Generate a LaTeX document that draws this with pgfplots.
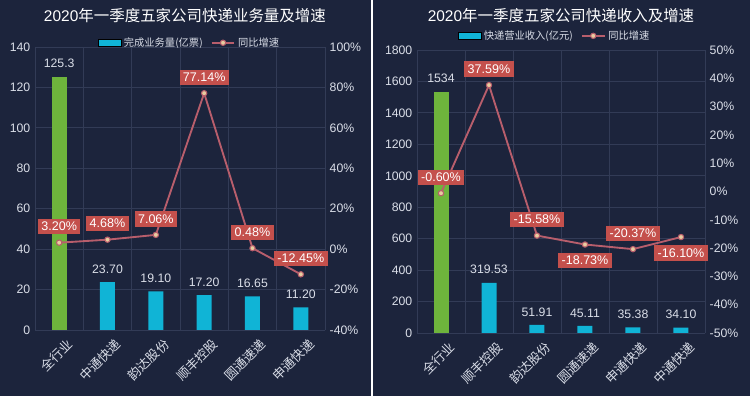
\documentclass[border=0pt]{standalone}
\usepackage{pgfplots}
\pgfplotsset{compat=1.18}
\usepackage{fontspec}
\setmainfont{Liberation Sans}
\newfontfamily\cjk{Noto Sans CJK SC}
\definecolor{bg}{RGB}{28,36,60}
\definecolor{gridc}{RGB}{50,59,86}
\definecolor{barc}{RGB}{16,180,214}
\definecolor{greenc}{RGB}{110,180,60}
\definecolor{linec}{RGB}{184,94,108}
\definecolor{boxc}{RGB}{196,80,76}
\definecolor{mkfill}{RGB}{232,205,160}
\definecolor{tickc}{RGB}{218,222,232}
\pgfplotsset{
  base/.style={scale only axis, anchor=south west, height=212.25pt,
    xmin=-0.5, xmax=5.5, clip=false,
    axis line style={draw=none}, tick style={draw=none},
    major tick length=0pt, minor tick length=0pt,
    /pgf/number format/assume math mode=true,
    /pgf/number format/1000 sep={},
    tick label style={font=\fontsize{9.2}{10}\selectfont, text=tickc},
    grid style={gridc, line width=0.6pt},
    minor grid style={gridc, line width=0.6pt}},
  prim/.style={base, xtick={0,...,5}, minor xtick={-0.5,0.5,...,5.5},
    xminorgrids, ymajorgrids,
    xticklabel style={rotate=45, anchor=north east, xshift=3pt, yshift=-4pt,
      font=\cjk\fontsize{9.6}{11}\selectfont, text=tickc},
    title style={anchor=center, font=\fontsize{11.6}{13}\selectfont, text=white}},
  sec/.style={base, axis y line*=right, axis x line=none, xtick=\empty,
    yticklabel={\pgfmathprintnumber{\tick}\%},
    legend columns=-1,
    legend style={anchor=center, draw=none, fill=none, text=tickc,
      font=\cjk\fontsize{7.7}{9}\selectfont, inner sep=0pt,
      /tikz/every even column/.append style={column sep=4pt}}},
  barval/.style={ybar, bar width=11.25pt, bar shift=0pt, draw=none,
    nodes near coords={\pgfplotspointmeta}, point meta=explicit symbolic,
    every node near coord/.append style={font=\fontsize{9.2}{10}\selectfont, text=tickc, yshift=3pt}},
  growth/.style={linec, line width=1.4pt, mark=*, mark size=2pt,
    mark options={fill=mkfill, draw=linec, line width=0.8pt},
    point meta=y,
    visualization depends on={\thisrow{dy}\as\dy},
    nodes near coords={\pgfmathprintnumber[fixed,fixed zerofill,precision=2,assume math mode=true]{\pgfplotspointmeta}\%},
    every node near coord/.append style={anchor=center, yshift=\dy pt, fill=boxc, text=white,
      font=\fontsize{9.4}{10}\selectfont, inner xsep=2.5pt, inner ysep=2.4pt}}
}
\begin{document}
\begin{tikzpicture}
\fill[bg] (0,0) rectangle (562.5pt,297pt);
\fill[white] (278.25pt,0) rectangle (279.75pt,297pt);
% ---------- Left panel ----------
\begin{axis}[prim, at={(26.25pt,49.5pt)}, width=217.5pt,
  ymin=0, ymax=140, ytick={0,20,...,140},
  xticklabels={全行业,中通快递,韵达股份,顺丰控股,圆通速递,申通快递},
  title={2020{\cjk 年一季度五家公司快递业务量及增速}},
  title style={at={(0.517,1.081)}}]
\addplot[barval, fill=greenc] coordinates {(0,125.3) [125.3]};
\addplot[barval, fill=barc] coordinates {(1,23.70) [23.70] (2,19.10) [19.10] (3,17.20) [17.20] (4,16.65) [16.65] (5,11.20) [11.20]};
\end{axis}
\begin{axis}[sec, at={(26.25pt,49.5pt)}, width=217.5pt,
  ymin=-40, ymax=100, ytick={-40,-20,...,100},
  legend style={at={(0.534,1.015)}}]
\addlegendimage{area legend, fill=barc, draw=none}
\addlegendentry{完成业务量(亿票)}
\addplot[growth] table {
x y dy
0 3.20 12
1 4.68 12
2 7.06 12
3 77.14 12
4 0.48 12
5 -12.45 12
};
\addlegendentry{同比增速}
\end{axis}
% ---------- Right panel ----------
\begin{axis}[prim, at={(312.75pt,47.25pt)}, width=216pt,
  ymin=0, ymax=1800, ytick={0,200,...,1800},
  xticklabels={全行业,顺丰控股,韵达股份,圆通速递,申通快递,中通快递},
  title={2020{\cjk 年一季度五家公司快递收入及增速}},
  title style={at={(0.5,1.092)}}]
\addplot[barval, fill=greenc] coordinates {(0,1534) [1534]};
\addplot[barval, fill=barc] coordinates {(1,319.53) [319.53] (2,51.91) [51.91] (3,45.11) [45.11] (4,35.38) [35.38] (5,34.10) [34.10]};
\end{axis}
\begin{axis}[sec, at={(312.75pt,47.25pt)}, width=216pt,
  ymin=-50, ymax=50, ytick={-50,-40,...,50},
  legend style={at={(0.479,1.05)}}]
\addlegendimage{area legend, fill=barc, draw=none}
\addlegendentry{快递营业收入(亿元)}
\addplot[growth] table {
x y dy
0 -0.60 12
1 37.59 12
2 -15.58 12
3 -18.73 -12
4 -20.37 12
5 -16.10 -12
};
\addlegendentry{同比增速}
\end{axis}
\end{tikzpicture}
\end{document}
